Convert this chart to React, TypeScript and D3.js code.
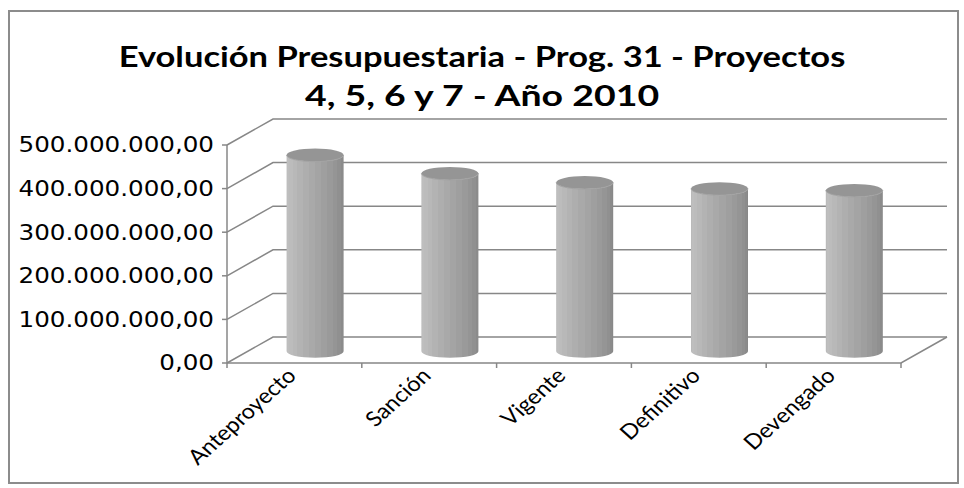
import React, { useMemo } from 'react';
import * as d3 from 'd3';

// ─── data ──────────────────────────────────────────────────────────────────
const categories = ['Anteproyecto', 'Sanción', 'Vigente', 'Definitivo', 'Devengado'];
const values = [450e6, 408e6, 387e6, 373e6, 369e6];
const yTicks = [0, 100e6, 200e6, 300e6, 400e6, 500e6];
const titleLines = ['Evolución Presupuestaria - Prog. 31 - Proyectos', '4, 5, 6 y 7 - Año 2010'];

// ─── layout ────────────────────────────────────────────────────────────────
const W = 964;
const H = 488;
const X0 = 227; // front-left corner of the floor
const X1 = 901; // front-right corner
const Y_BOT = 363;
const Y_TOP = 145;
const DX = 46; // depth vector
const DY = -26;
const CYL_Z = 0.45; // where the cylinders sit in depth
const GRID = '#878787';
const TITLE_STRETCH = [1.17, 1.27]; // the source chart was drawn a bit wide

const locale = d3.formatLocale({ decimal: ',', thousands: '.', grouping: [3], currency: ['$', ''] });
const fmt = locale.format(',.2f');

// banded shading across the cylinder face, light on the left
const SHADES = ['#bababa', '#bebebe', '#bcbcbc', '#b8b8b8', '#b3b3b3', '#aeaeae', '#a9a9a9', '#a4a4a4', '#9f9f9f', '#9a9a9a', '#959595', '#909090', '#8b8b8b', '#888888'];

const Cylinder: React.FC<{ cx: number; yTop: number; yBot: number; rx: number; ry: number }> = ({ cx, yTop, yBot, rx, ry }) => {
  const body =
    `M${cx - rx},${yTop} L${cx - rx},${yBot} ` +
    `A${rx},${ry} 0 0 0 ${cx + rx},${yBot} L${cx + rx},${yTop} ` +
    `A${rx},${ry} 0 0 1 ${cx - rx},${yTop} Z`;
  return (
    <g>
      <path d={body} fill="url(#cylGrad)" />
      <ellipse cx={cx} cy={yTop} rx={rx} ry={ry} fill="#959595" />
      <path d={`M${cx - rx},${yTop} A${rx},${ry} 0 0 0 ${cx + rx},${yTop}`} fill="none" stroke="#a3a3a3" strokeWidth={1} />
    </g>
  );
};

export default function App() {
  const x = useMemo(() => d3.scaleBand<string>().domain(categories).range([X0, X1]), []);
  const y = useMemo(() => d3.scaleLinear().domain([0, 500e6]).range([Y_BOT, Y_TOP]), []);

  const n = SHADES.length;
  const stops: { off: number; c: string }[] = [];
  SHADES.forEach((c, i) => {
    // facets of equal angle -> narrower toward the edges
    const a0 = Math.PI - (i / n) * Math.PI;
    const a1 = Math.PI - ((i + 1) / n) * Math.PI;
    stops.push({ off: (1 + Math.cos(a0)) / 2, c });
    stops.push({ off: (1 + Math.cos(a1)) / 2, c });
  });

  const rx = 28.5;
  const ry = 6.5;

  return (
    <svg width={W} height={H} style={{ position: 'absolute', left: 0, top: 0, background: '#fff' }}>
      <defs>
        <linearGradient id="cylGrad" x1="0" x2="1" y1="0" y2="0">
          {stops.map((s, i) => (
            <stop key={i} offset={s.off} stopColor={s.c} />
          ))}
        </linearGradient>
      </defs>
      <rect x={9} y={11} width={949} height={472} fill="#fff" stroke="#8c8c8c" strokeWidth={2} />

      {titleLines.map((t, i) => (
        <text
          key={i}
          transform={`translate(482,${67 + i * 39}) scale(${TITLE_STRETCH[i]},1)`}
          textAnchor="middle"
          fontFamily="Lato, 'Open Sans', sans-serif"
          fontWeight={700}
          fontSize={29.5}
          fill="#000"
        >
          {t}
        </text>
      ))}

      {/* walls: side diagonals + back-wall gridlines */}
      {yTicks.map(t => {
        const yy = y(t);
        return (
          <g key={t}>
            <polyline
              points={`${X0},${yy} ${X0 + DX},${yy + DY} ${X1 + DX},${yy + DY}`}
              fill="none"
              stroke={GRID}
              strokeWidth={1.5}
            />
            <line x1={X0 - 5} x2={X0} y1={yy} y2={yy} stroke={GRID} strokeWidth={1.5} />
            <text
              transform={`translate(214,${yy}) scale(1.2,1)`}
              dy="0.36em"
              textAnchor="end"
              fontFamily="'DejaVu Sans', Verdana, sans-serif"
              fontSize={20.5}
              fill="#000"
            >
              {fmt(t)}
            </text>
          </g>
        );
      })}
      <line x1={X0} x2={X0} y1={Y_TOP} y2={Y_BOT} stroke={GRID} strokeWidth={1.5} />
      {/* floor front edge and right edge */}
      <polyline points={`${X0},${Y_BOT} ${X1},${Y_BOT} ${X1 + DX},${Y_BOT + DY}`} fill="none" stroke={GRID} strokeWidth={1.5} />
      {[...categories.map(c => x(c) as number), X1].map((v, i) => (
        <line key={i} x1={v} x2={v} y1={Y_BOT} y2={Y_BOT + 5} stroke={GRID} strokeWidth={1.5} />
      ))}

      {categories.map((c, i) => {
        const cx = (x(c) as number) + x.bandwidth() / 2 + CYL_Z * DX;
        return (
          <Cylinder key={c} cx={cx} rx={rx} ry={ry} yBot={Y_BOT + CYL_Z * DY} yTop={y(values[i]) + CYL_Z * DY} />
        );
      })}

      {categories.map(c => {
        const lx = (x(c) as number) + x.bandwidth() / 2 + 3;
        const ly = Y_BOT + 14;
        return (
          <text
            key={c}
            transform={`translate(${lx},${ly}) scale(1.12,1) rotate(-45)`}
            textAnchor="end"
            fontFamily="Lato, 'Open Sans', sans-serif"
            fontSize={21}
            fill="#000"
          >
            {c}
          </text>
        );
      })}
    </svg>
  );
}
